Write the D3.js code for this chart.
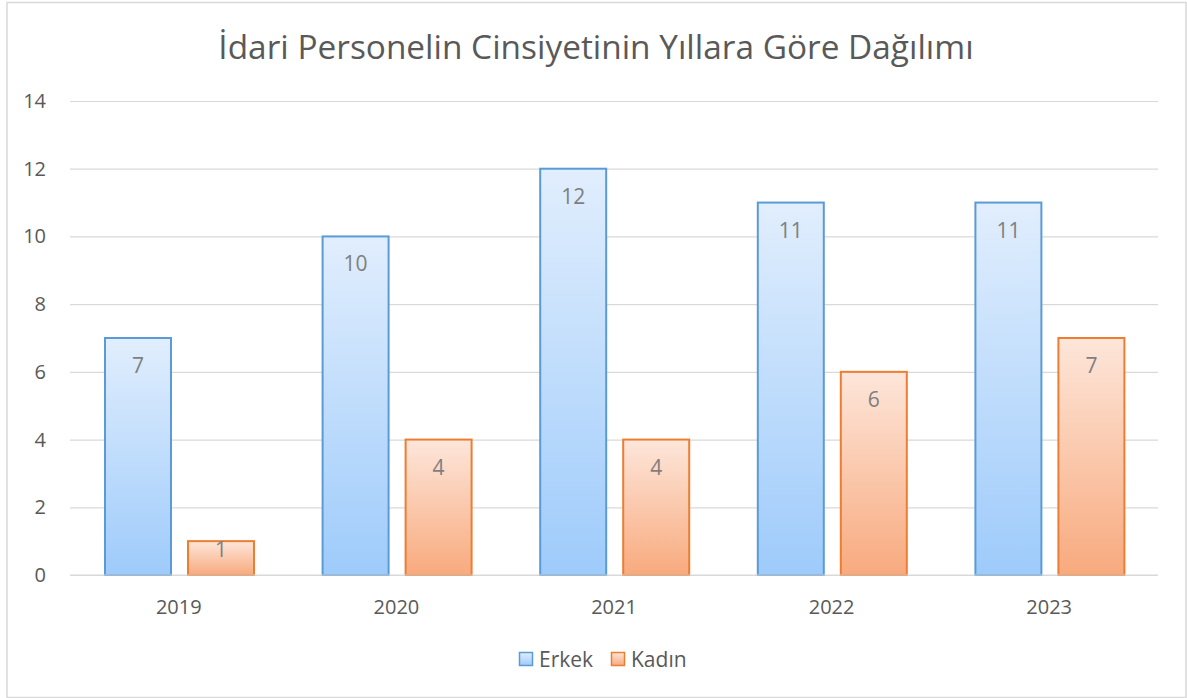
<!DOCTYPE html>
<html>
<head>
<meta charset="utf-8">
<script src="https://cdn.jsdelivr.net/npm/d3@7"></script>
<style>
  body { margin: 0; background: #fff; }
  text { font-family: "Open Sans", "Noto Sans", sans-serif; }
</style>
</head>
<body>
<div id="chart"></div>
<script>
// chart data
const years = ["2019", "2020", "2021", "2022", "2023"];
const erkek = [7, 10, 12, 11, 11];
const kadin = [1, 4, 4, 6, 7];
const seriesNames = ["Erkek", "Kadın"];
const yTicks = [0, 2, 4, 6, 8, 10, 12, 14];
const title = "İdari Personelin Cinsiyetinin Yıllara Göre Dağılımı";

const W = 1187, H = 698;
const margin = {top: 101, right: 29, bottom: 123, left: 70};
const width = W - margin.left - margin.right,
      height = H - margin.top - margin.bottom;

const svg = d3.select("#chart").append("svg")
    .attr("width", W)
    .attr("height", H);

// gradients
const defs = svg.append("defs");
const grads = [
  {id: "gErkek", top: "#e1eefd", bottom: "#9ecbfb"},
  {id: "gKadin", top: "#fde6da", bottom: "#f8aa7e"}
];
grads.forEach(g => {
  const lg = defs.append("linearGradient").attr("id", g.id)
    .attr("x1", 0).attr("y1", 0).attr("x2", 0).attr("y2", 1);
  lg.append("stop").attr("offset", "0%").attr("stop-color", g.top);
  lg.append("stop").attr("offset", "100%").attr("stop-color", g.bottom);
});
const fills = ["url(#gErkek)", "url(#gKadin)"];
const strokes = ["#5b9bd5", "#ed7d31"];

// outer frame
svg.append("rect")
  .attr("x", 7).attr("y", 2.5)
  .attr("width", W - 8).attr("height", H - 3)
  .attr("fill", "none").attr("stroke", "#d9d9d9").attr("stroke-width", 1.5);

// title
svg.append("text")
  .attr("x", 596).attr("y", 59)
  .attr("text-anchor", "middle")
  .attr("fill", "#595959")
  .style("font-size", "33.4px")
  .text(title);

const g = svg.append("g")
  .attr("transform", `translate(${margin.left},${margin.top})`);

const x = d3.scaleBand().domain(years).range([0, width]);
const y = d3.scaleLinear().domain([0, 14]).range([height, 0]);
const xSub = d3.scaleBand().domain(seriesNames)
  .range([35, 35 + 149]).paddingInner(0.205);

// gridlines
g.append("g")
  .call(d3.axisLeft(y).tickValues(yTicks).tickSize(-width).tickFormat(""))
  .call(a => a.select(".domain").remove())
  .selectAll("line").attr("stroke", "#d9d9d9").attr("stroke-width", 1.2);

// y labels
g.selectAll(".ylab").data(yTicks).join("text")
  .attr("class", "ylab")
  .attr("x", -24).attr("y", d => y(d) + 7)
  .attr("text-anchor", "end")
  .attr("fill", "#595959")
  .style("font-size", "20px")
  .text(d => d);

// x labels
g.selectAll(".xlab").data(years).join("text")
  .attr("class", "xlab")
  .attr("x", d => x(d) + x.bandwidth() / 2)
  .attr("y", height + 39)
  .attr("text-anchor", "middle")
  .attr("fill", "#595959")
  .style("font-size", "20px")
  .text(d => d);

const rows = years.map((yr, i) => ({year: yr, vals: [erkek[i], kadin[i]]}));

const groups = g.selectAll(".grp").data(rows).join("g")
  .attr("transform", d => `translate(${x(d.year)},0)`);

const cells = groups.selectAll("g").data(d => d.vals.map((v, k) => ({v, k, name: seriesNames[k]})))
  .join("g");

cells.append("rect")
  .attr("x", d => xSub(d.name))
  .attr("y", d => y(d.v))
  .attr("width", xSub.bandwidth())
  .attr("height", d => height - y(d.v))
  .attr("fill", d => fills[d.k])
  .attr("stroke", d => strokes[d.k])
  .attr("stroke-width", 2);

// labels sit inside the top of the bar, pushed up for short bars
cells.append("text")
  .attr("x", d => xSub(d.name) + xSub.bandwidth() / 2)
  .attr("y", d => Math.min(y(d.v) + 35, height - 18))
  .attr("text-anchor", "middle")
  .attr("fill", "#7f7f7f")
  .style("font-size", "21px")
  .text(d => d.v);

// x axis baseline
g.append("line")
  .attr("x1", 0).attr("x2", width)
  .attr("y1", height).attr("y2", height)
  .attr("stroke", "#d9d9d9").attr("stroke-width", 1.2);

// legend
const legend = svg.append("g");
const legX = [519, 611];
seriesNames.forEach((n, k) => {
  legend.append("rect")
    .attr("x", legX[k] + 0.5).attr("y", 652.5)
    .attr("width", 13).attr("height", 13)
    .attr("fill", fills[k])
    .attr("stroke", strokes[k]).attr("stroke-width", 1.5);
  legend.append("text")
    .attr("x", legX[k] + 20).attr("y", 667)
    .attr("fill", "#595959")
    .style("font-size", "21px")
    .text(n);
});
</script>
</body>
</html>
